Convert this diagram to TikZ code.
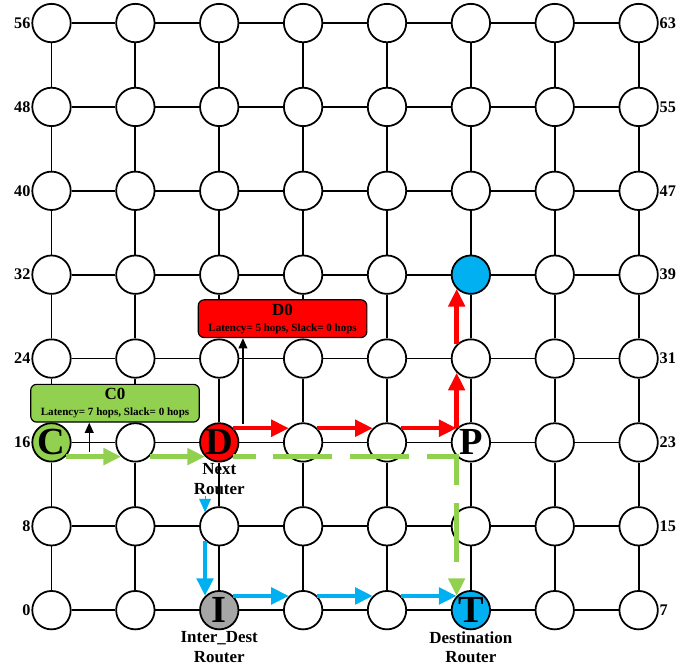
\documentclass[tikz,border=0pt]{standalone}
\usepackage{fontspec}
\setmainfont{Liberation Serif}
\usetikzlibrary{
  arrows.meta,
  positioning,
  calc
}
\definecolor{pathgreen}{HTML}{92D050}
\definecolor{pathred}{HTML}{FF0000}
\definecolor{pathblue}{HTML}{00B0F0}
\definecolor{intergray}{HTML}{A6A6A6}

\begin{document}
\begin{tikzpicture}[
    every node/.style={font=\bfseries, align=center},
    router/.style={
      circle, draw, line width=1.2pt,
      minimum size=0.916cm, inner sep=0pt,
      fill=white
    },
    bigletter/.style={font=\fontsize{26}{26}\selectfont\bfseries, inner sep=0pt},
    idlabel/.style={font=\fontsize{11}{11}\selectfont\bfseries, inner sep=0.5pt},
    roletag/.style={font=\fontsize{11.5}{13.5}\selectfont\bfseries, inner sep=0.5pt},
    infobox/.style={
      rectangle, draw, rounded corners=4pt, line width=0.8pt,
      minimum width=4.02cm, minimum height=0.9cm, inner sep=1pt
    },
    link/.style={line width=1.2pt},
    flow/.style={line width=3pt, -{Triangle[length=12pt, width=11pt]}},
    noteline/.style={line width=1pt, -{Triangle[length=7pt, width=6pt]}},
    % --- special routers ---
    tag16/.style={fill=pathgreen, label={[bigletter]center:C}},
    tag18/.style={fill=pathred, label={[bigletter]center:D}},
    tag21/.style={label={[bigletter]center:P}},
    tag2/.style={fill=intergray, label={[bigletter]center:I}},
    tag5/.style={fill=pathblue, label={[bigletter]center:T}},
    tag37/.style={fill=pathblue},
  ]

  \useasboundingbox (-1.228,-1.407) rectangle (15.44,14.55);

  % --- Routers (8x8 mesh) ---
  \foreach \id in {0,...,63}{
    \pgfmathtruncatemacro{\col}{mod(\id,8)}
    \pgfmathtruncatemacro{\row}{div(\id,8)}
    \node[router, tag\id/.try] (r\id) at (2*\col, 2*\row) {};
  }

  % --- Links ---
  \foreach \row in {0,...,7}{
    \foreach \col in {0,...,6}{
      \pgfmathtruncatemacro{\a}{8*\row+\col}
      \pgfmathtruncatemacro{\b}{\a+1}
      \draw[link] (r\a) -- (r\b);
    }
  }
  \foreach \row in {0,...,6}{
    \foreach \col in {0,...,7}{
      \pgfmathtruncatemacro{\a}{8*\row+\col}
      \pgfmathtruncatemacro{\b}{\a+8}
      \draw[link] (r\a) -- (r\b);
    }
  }

  % --- Row numbers ---
  \foreach \row in {0,...,7}{
    \pgfmathtruncatemacro{\a}{8*\row}
    \pgfmathtruncatemacro{\b}{8*\row+7}
    \node[idlabel, left=0pt of r\a] {\a};
    \node[idlabel, right=0pt of r\b] {\b};
  }

  % --- Router roles ---
  \node[roletag, below=0pt of r18] (nexttag) {Next\\Router};
  \node[roletag, below=0pt of r2] (intertag) {Inter\_Dest\\Router};
  \node[roletag, below=0pt of r5] (desttag) {Destination\\Router};

  % --- Info boxes ---
  \node[infobox, fill=pathgreen] (c0box) at (1.515, 4.935)
    {{\fontsize{11.5}{12}\selectfont C0}\\[-1pt]
     {\fontsize{7.5}{9}\selectfont Latency= 7 hops, Slack= 0 hops}};
  \node[infobox, fill=pathred] (d0box) at (5.51, 6.95)
    {{\fontsize{11.5}{12}\selectfont D0}\\[-1pt]
     {\fontsize{7.5}{9}\selectfont Latency= 5 hops, Slack= 0 hops}};

  \coordinate (c0foot) at ($ (r16)!0.45!(r17) + (0,-0.24) $);
  \coordinate (d0foot) at ($ (r18) + (0.565,0.45) $);
  \draw[noteline] (c0foot) -- (c0foot |- c0box.south);
  \draw[noteline] (d0foot) -- (d0foot |- d0box.south);

  % --- Red path (D0) ---
  \draw[flow, pathred] (r18.45) -- (r19.135);
  \draw[flow, pathred] (r19.45) -- (r20.135);
  \draw[flow, pathred] (r20.45) -- (r21.135);
  \draw[flow, pathred] (r21.135) -- (r29.225);
  \draw[flow, pathred] (r29.135) -- (r37.225);

  % --- Green path (C0) ---
  \draw[flow, pathgreen] (r16.-45) -- (r17.-135);
  \draw[flow, pathgreen] (r17.-45) -- (r18.-135);
  \draw[flow, pathgreen, dash pattern=on 40pt off 12pt, dash phase=25pt]
    (r18.-45) -- (r18.-45 -| r21.-135) -- (r5.135);

  % --- Blue path (via Inter_Dest) ---
  \draw[pathblue, line width=0.4pt, -{Triangle[length=9pt, width=8pt]}]
    (nexttag.south -| r10.135) -- (r10.135);
  \draw[flow, pathblue] (r10.-135) -- (r2.135);
  \draw[flow, pathblue] (r2.45) -- (r3.135);
  \draw[flow, pathblue] (r3.45) -- (r4.135);
  \draw[flow, pathblue] (r4.45) -- (r5.135);
\end{tikzpicture}
\end{document}
